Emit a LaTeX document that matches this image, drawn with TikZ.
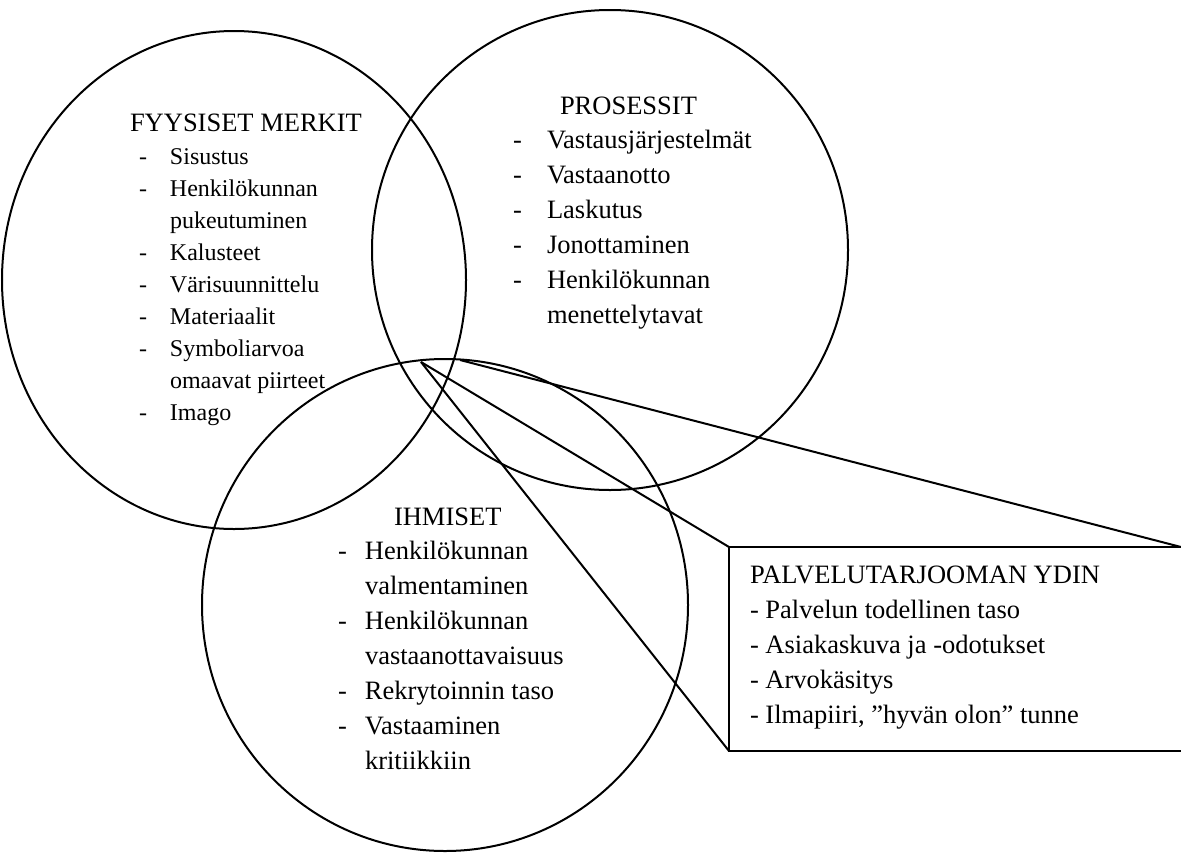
\documentclass[tikz,border=0pt]{standalone}
\usepackage{fontspec}
\setmainfont{Liberation Serif}
\usepackage{array}
\begin{document}
\begin{tikzpicture}[x=1pt,y=-1pt,
  every node/.style={inner sep=0pt, outer sep=0pt},
  ring/.style={draw, line width=2pt},
  link/.style={draw, line width=2pt},
  bigfont/.style={font=\fontsize{26.5}{35}\selectfont},
  smallfont/.style={font=\fontsize{24}{32}\selectfont},
  txt/.style={anchor=base west, align=left}
]
\useasboundingbox (0,0) rectangle (1181,854);
\clip (0,0) rectangle (1181,854);
\fill[white] (0,0) rectangle (1181,854);

% circles
\draw[ring] (234,280) ellipse [x radius=232pt, y radius=249pt];
\draw[ring] (610,250) ellipse [x radius=238pt, y radius=240pt];
\draw[ring] (445,605) ellipse [x radius=243pt, y radius=246pt];

% box
\node[draw, line width=2pt, anchor=north west, minimum width=460pt, minimum height=204pt] (box) at (729,547) {};
\coordinate (tr) at (1181,547);
\coordinate (p1) at (421,362);
\coordinate (p2) at (460,360);

\draw[link] (p1) -- (box.north west);
\draw[link] (p1) -- (box.south west);
\draw[link] (p2) -- (tr);

% FYYSISET MERKIT
\node[txt, bigfont] (t1) at (130,131) {FYYSISET MERKIT};
\node[txt, smallfont] (l1) at (139,164) {\begin{tabular}[t]{@{}p{31pt}@{}l@{}}
- & Sisustus\\
- & Henkilökunnan\\
  & pukeutuminen\\
- & Kalusteet\\
- & Värisuunnittelu\\
- & Materiaalit\\
- & Symboliarvoa\\
  & omaavat piirteet\\
- & Imago
\end{tabular}};

% PROSESSIT
\node[txt, bigfont] (t2) at (560,114) {PROSESSIT};
\node[txt, bigfont] (l2) at (513,148) {\begin{tabular}[t]{@{}p{34pt}@{}l@{}}
- & Vastausjärjestelmät\\
- & Vastaanotto\\
- & Laskutus\\
- & Jonottaminen\\
- & Henkilökunnan\\
  & menettelytavat
\end{tabular}};

% IHMISET
\node[txt, bigfont] (t3) at (394,525) {IHMISET};
\node[txt, bigfont] (l3) at (338,559) {\begin{tabular}[t]{@{}p{27pt}@{}l@{}}
- & Henkilökunnan\\
  & valmentaminen\\
- & Henkilökunnan\\
  & vastaanottavaisuus\\
- & Rekrytoinnin taso\\
- & Vastaaminen\\
  & kritiikkiin
\end{tabular}};

% box text
\node[txt, bigfont] (bt) at (750,583) {\begin{tabular}[t]{@{}l@{}}
PALVELUTARJOOMAN YDIN\\
- Palvelun todellinen taso\\
- Asiakaskuva ja -odotukset\\
- Arvokäsitys\\
- Ilmapiiri, ”hyvän olon” tunne
\end{tabular}};
\end{tikzpicture}
\end{document}
